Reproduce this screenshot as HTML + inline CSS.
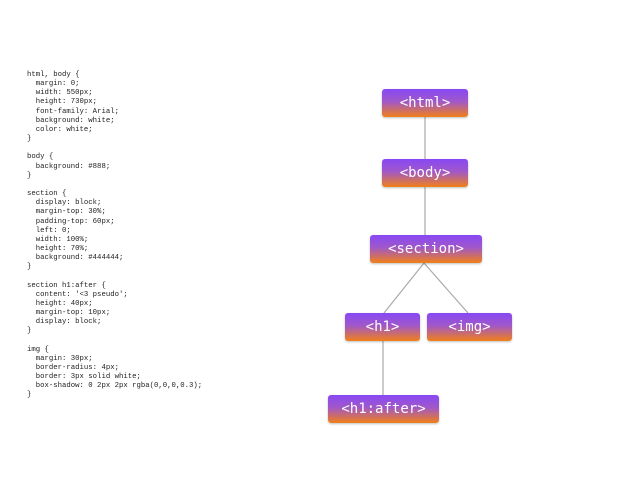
<!DOCTYPE html>
<html><head><style>
body{margin:0;width:640px;height:480px;background:#fff;position:relative;overflow:hidden}
pre{position:absolute;left:27px;top:71px;margin:0;font-family:"Liberation Mono",monospace;font-size:7.3px;line-height:9.15px;color:#222}
.n{position:absolute;height:28px;border-radius:3px;background:linear-gradient(#8848f4,#a058c8 45%,#f08018);color:#fff;font-family:"DejaVu Sans Mono","Liberation Mono",monospace;font-size:14px;line-height:28px;text-align:center;box-shadow:0 1px 2px rgba(0,0,0,.25)}
</style></head><body>
<pre>html, body {
  margin: 0;
  width: 550px;
  height: 730px;
  font-family: Arial;
  background: white;
  color: white;
}

body {
  background: #888;
}

section {
  display: block;
  margin-top: 30%;
  padding-top: 60px;
  left: 0;
  width: 100%;
  height: 70%;
  background: #444444;
}

section h1:after {
  content: '&lt;3 pseudo';
  height: 40px;
  margin-top: 10px;
  display: block;
}

img {
  margin: 30px;
  border-radius: 4px;
  border: 3px solid white;
  box-shadow: 0 2px 2px rgba(0,0,0,0.3);
}</pre>
<svg width="640" height="480" style="position:absolute;left:0;top:0">
<g stroke="#aaa" stroke-width="1.2">
<line x1="425" y1="116" x2="425" y2="160"/>
<line x1="425" y1="187" x2="425" y2="236"/>
<line x1="424" y1="263" x2="384" y2="313"/>
<line x1="424" y1="263" x2="468" y2="313"/>
<line x1="383" y1="340" x2="383" y2="395"/>
</g></svg>
<div class="n" style="left:382px;top:89px;width:86px">&lt;html&gt;</div>
<div class="n" style="left:382px;top:159px;width:86px">&lt;body&gt;</div>
<div class="n" style="left:370px;top:235px;width:112px">&lt;section&gt;</div>
<div class="n" style="left:345px;top:313px;width:75px">&lt;h1&gt;</div>
<div class="n" style="left:427px;top:313px;width:85px">&lt;img&gt;</div>
<div class="n" style="left:328px;top:395px;width:111px">&lt;h1:after&gt;</div>
</body></html>
